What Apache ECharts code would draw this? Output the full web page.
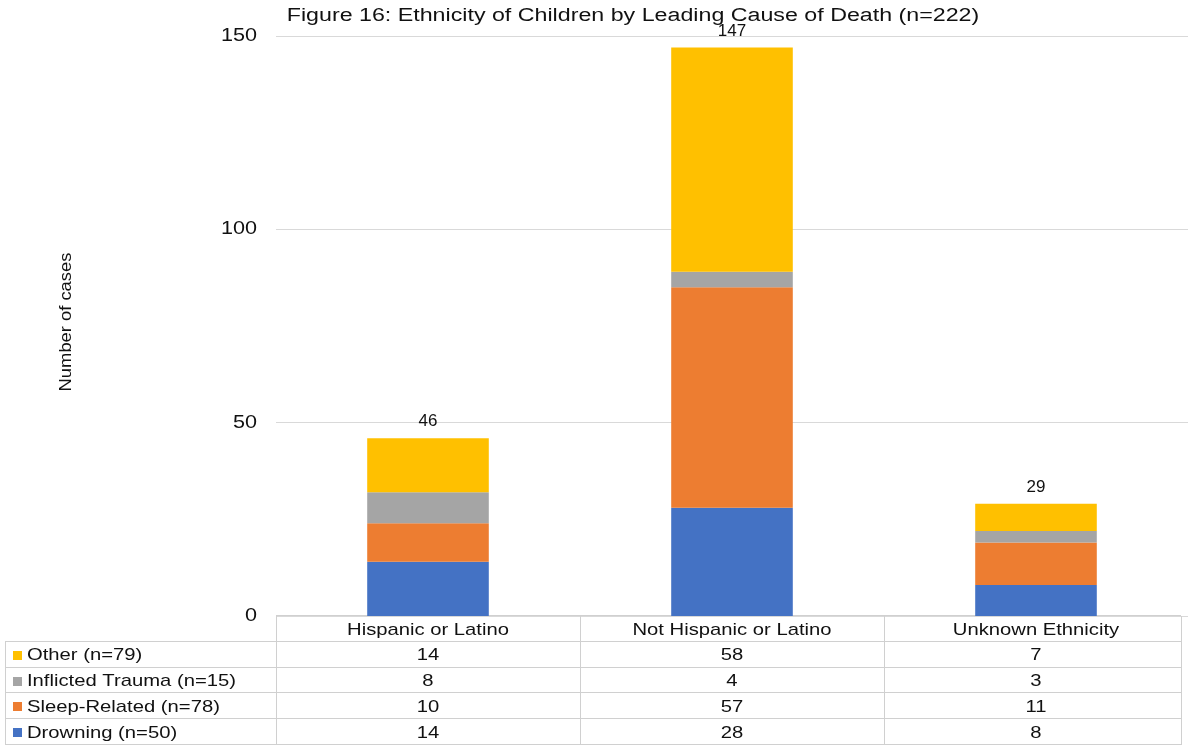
<!DOCTYPE html>
<html>
<head>
<meta charset="utf-8">
<script src="https://cdn.jsdelivr.net/npm/echarts@6/dist/echarts.min.js"></script>
<style>html,body{margin:0;padding:0;background:#fff;}#c{width:1193px;height:746px;}</style>
</head>
<body>
<div id="c"></div>
<script>
var categories = ['Hispanic or Latino', 'Not Hispanic or Latino', 'Unknown Ethnicity'];
var drowning = [14, 28, 8];
var sleepRelated = [10, 57, 11];
var inflictedTrauma = [8, 4, 3];
var other = [14, 58, 7];
var seriesNames = ['Drowning (n=50)', 'Sleep-Related (n=78)', 'Inflicted Trauma (n=15)', 'Other (n=79)'];
var yTicks = [0, 50, 100, 150];
var titleText = 'Figure 16: Ethnicity of Children by Leading Cause of Death (n=222)';
var yAxisTitle = 'Number of cases';

var colors = ['#4472C4', '#ED7D31', '#A5A5A5', '#FFC000'];
var seriesData = [drowning, sleepRelated, inflictedTrauma, other];
var totals = categories.map(function (c, i) {
  return seriesData.reduce(function (s, arr) { return s + arr[i]; }, 0);
});

var FONT = '"Liberation Sans", Arial, sans-serif';
var TXT = '#111';
var SX = 1.19;
var chart = echarts.init(document.getElementById('c'), null, { renderer: 'canvas' });

var series = seriesData.map(function (arr, k) {
  var s = {
    name: seriesNames[k],
    type: 'bar',
    stack: 'total',
    barWidth: '40%',
    data: arr,
    itemStyle: { color: colors[k] },
    emphasis: { disabled: true },
    animation: false
  };
  if (k === seriesData.length - 1) {
    s.label = {
      show: true, position: 'top', distance: 8,
      fontFamily: FONT, fontSize: 17, color: TXT,
      formatter: function (p) { return String(totals[p.dataIndex]); }
    };
  }
  return s;
});

var gridLeft = 276, gridRight = 5, gridTop = 36, gridBottom = 130;

chart.setOption({
  animation: false,
  grid: { left: gridLeft, right: gridRight, top: gridTop, bottom: gridBottom },
  xAxis: {
    type: 'category',
    data: categories,
    axisLine: { show: false },
    axisTick: { show: false },
    axisLabel: { show: false }
  },
  yAxis: {
    type: 'value',
    min: yTicks[0], max: yTicks[yTicks.length - 1], interval: 50,
    axisLine: { show: false },
    axisTick: { show: false },
    axisLabel: { show: false },
    splitLine: { lineStyle: { color: '#d9d9d9', width: 1 } }
  },
  series: series
});

var g = [];
function txt(x, y, s, opt) {
  opt = opt || {};
  g.push({
    type: 'text', x: x, y: y, scaleX: opt.sx || SX, rotation: opt.rot || 0,
    style: {
      text: s, fontFamily: FONT, fontSize: opt.fs || 17, fill: TXT,
      align: opt.align || 'center', verticalAlign: 'middle'
    }
  });
}

// title
txt(633, 16, titleText, { fs: 18, sx: 1.29 });
// y axis name
txt(66, 322, yAxisTitle, { fs: 17, sx: 1.08, rot: Math.PI / 2 });
// y tick labels
yTicks.forEach(function (v) {
  var py = chart.convertToPixel({ yAxisIndex: 0 }, v);
  txt(257, py, String(v), { fs: 18, sx: 1.2, align: 'right' });
});

// data table under the chart
var rowTop = 616, rowH = 25.8;
var leftX = 5, tableRight = 1181;
var lineColor = '#d0d0d0';
var centers = categories.map(function (c) { return chart.convertToPixel({ xAxisIndex: 0 }, c); });
var half = (centers[1] - centers[0]) / 2;
var colEdges = [gridLeft];
for (var i = 0; i < centers.length - 1; i++) colEdges.push(centers[i] + half);
colEdges.push(tableRight);

var nRows = seriesData.length;
var bottomY = rowTop + rowH * (nRows + 1);
g.push({ type: 'line', shape: { x1: gridLeft, y1: rowTop - 0.5, x2: tableRight, y2: rowTop - 0.5 }, style: { stroke: lineColor, lineWidth: 1 } });
for (var r = 1; r <= nRows + 1; r++) {
  var y = Math.round(rowTop + rowH * r) - 0.5;
  g.push({ type: 'line', shape: { x1: leftX, y1: y, x2: tableRight, y2: y }, style: { stroke: lineColor, lineWidth: 1 } });
}
g.push({ type: 'line', shape: { x1: leftX + 0.5, y1: rowTop + rowH, x2: leftX + 0.5, y2: bottomY }, style: { stroke: lineColor, lineWidth: 1 } });
colEdges.forEach(function (x) {
  g.push({ type: 'line', shape: { x1: Math.round(x) + 0.5, y1: rowTop, x2: Math.round(x) + 0.5, y2: bottomY }, style: { stroke: lineColor, lineWidth: 1 } });
});
// header: category names
categories.forEach(function (c, i) {
  txt(centers[i], rowTop + rowH / 2 + 1, c, { fs: 17 });
});
// rows: top to bottom = Other, Inflicted, Sleep, Drowning
for (var r = 0; r < nRows; r++) {
  var k = nRows - 1 - r;
  var cy = rowTop + rowH * (r + 1) + rowH / 2 + 1;
  g.push({ type: 'rect', shape: { x: 13, y: Math.round(cy - 5), width: 9, height: 9 }, style: { fill: colors[k] } });
  txt(27, cy, seriesNames[k], { fs: 17, align: 'left' });
  for (var c = 0; c < categories.length; c++) {
    txt(centers[c], cy, String(seriesData[k][c]), { fs: 17 });
  }
}
chart.setOption({ graphic: g });
</script>
</body>
</html>
